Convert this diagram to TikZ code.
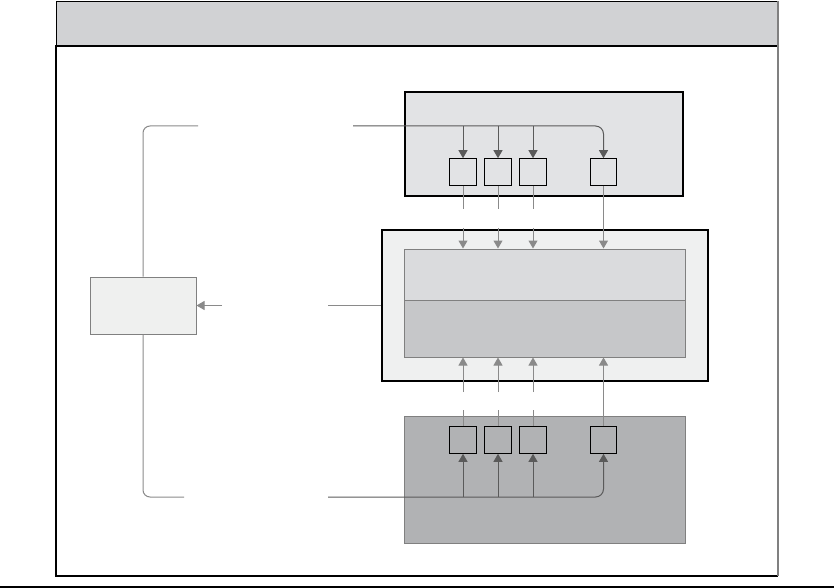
\documentclass[tikz,border=0pt]{standalone}
\usetikzlibrary{arrows.meta}

\definecolor{headfill}{HTML}{D1D2D4}
\definecolor{upperfill}{HTML}{E2E3E5}
\definecolor{middlefill}{HTML}{EFF0F0}
\definecolor{layerone}{HTML}{DADBDD}
\definecolor{layertwo}{HTML}{C6C7C9}
\definecolor{lowerfill}{HTML}{B1B2B4}
\definecolor{sidefill}{HTML}{EFF0EF}
\definecolor{edgegray}{HTML}{808080}
\definecolor{feedgray}{HTML}{5A5A5A}
\definecolor{linkgray}{HTML}{8A8A8A}

\begin{document}
\begin{tikzpicture}[
    x=1pt, y=-1pt,
    box/.style={draw=black, line width=1.1pt, inner sep=0pt},
    panel/.style={draw=edgegray, line width=1pt, inner sep=0pt},
    port/.style={draw=black, line width=1.1pt, minimum size=26.5pt, inner sep=0pt},
    feed/.style={draw=feedgray, line width=1pt, rounded corners=8pt},
    link/.style={draw=linkgray, line width=1pt},
    bracket/.style={draw=linkgray, line width=1pt, rounded corners=7pt},
    tipped/.style={-{Triangle[width=9pt,length=8pt]}},
]
\useasboundingbox (0,0) rectangle (834,588);

% Frame and header
\node[box, fill=headfill, minimum width=722pt, minimum height=45pt, anchor=north west] (head) at (56,1) {};
\draw[black, line width=1.1pt] (778,46) -- (56,46) -- (56,576) -- (778,576);
\draw[edgegray, line width=1.1pt] (778,1) -- (778,576);
\draw[black, line width=1.1pt] (0,587) -- (834,587);

% Upper unit
\node[box, fill=upperfill, minimum width=278pt, minimum height=104pt] (upper) at (544,144) {};
\node[port] (t1) at (463,172) {};
\node[port] (t2) at (498,172) {};
\node[port] (t3) at (533,172) {};
\node[port] (t4) at (603.5,172) {};

% Middle unit
\node[box, fill=middlefill, minimum width=326pt, minimum height=151pt] (middle) at (545,305.5) {};
\node[panel, fill=layerone, minimum width=281pt, minimum height=51pt] (layer1) at (544.5,274.5) {};
\node[panel, fill=layertwo, minimum width=281pt, minimum height=57pt] (layer2) at (544.5,328.5) {};

% Lower unit
\node[panel, fill=lowerfill, minimum width=281pt, minimum height=127pt] (lower) at (544.5,479.5) {};
\node[port] (b1) at (463,440) {};
\node[port] (b2) at (498,440) {};
\node[port] (b3) at (533,440) {};
\node[port] (b4) at (603.5,440) {};

% Side block
\node[panel, fill=sidefill, minimum width=106pt, minimum height=57pt] (side) at (143,305.5) {};

% Free ends
\coordinate (topin) at (353,126);
\coordinate (topout) at (198,126);
\coordinate (botin) at (328,497);
\coordinate (botout) at (184,497);
\coordinate (midin) at (328,305.5);
\coordinate (ret) at (222,305.5);

% Feeds into the ports
\draw[feed, tipped, feedgray] (topin) -| (t4.north);
\draw[feed, tipped, feedgray] (botin) -| (b4.south);
\foreach \i in {1,2,3} {
    \draw[feed, tipped, feedgray] (t\i |- topin) -- (t\i.north);
    \draw[feed, tipped, feedgray] (b\i |- botin) -- (b\i.south);
}

% Links to the middle unit
\foreach \i in {1,2,3} {
    \draw[link] (t\i.south) -- ([yshift=-23pt]t\i.south);
    \draw[link, tipped, linkgray] ([yshift=-42pt]t\i.south) -- (t\i |- layer1.north);
    \draw[link] (b\i.north) -- ([yshift=16pt]b\i.north);
    \draw[link, tipped, linkgray] ([yshift=34pt]b\i.north) -- (b\i |- layer2.south);
}
\draw[link, tipped, linkgray] (t4.south) -- (t4 |- layer1.north);
\draw[link, tipped, linkgray] (b4.north) -- (b4 |- layer2.south);

% Bracket round the side block
\draw[bracket] (topout) -| (side.north);
\draw[bracket] (botout) -| (side.south);
\draw[link] (midin) -- (middle.west);
\draw[link, tipped, linkgray] (ret) -- (side.east);

\end{tikzpicture}
\end{document}
